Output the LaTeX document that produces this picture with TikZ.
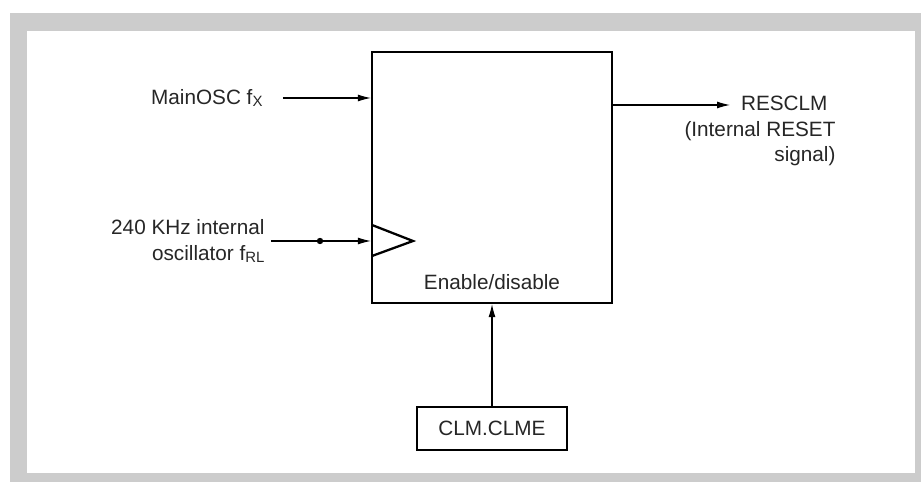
\documentclass[tikz,border=0pt]{standalone}
\usepackage{fontspec}
\setmainfont{Liberation Sans}
\usetikzlibrary{arrows.meta, positioning}
\tikzset{every path/.style={line width=0.6pt},
  sig/.style={-{Latex[length=2.6mm,width=1.4mm]}},
  block/.style={draw, line width=1.3pt, inner sep=0pt},
  lbl/.style={font=\fontsize{11.8}{14.4}\selectfont, text=black!85, inner sep=0pt}}
\newcommand{\sub}[1]{{\fontsize{8.5}{8.5}\selectfont\raisebox{-0.25ex}{#1}}}

\begin{document}
\begin{tikzpicture}[x=0.02cm, y=-0.02cm]
    \useasboundingbox (0,0) rectangle (921,482);
    \fill[black!20] (10,13) rectangle (921,482);
    \fill[white] (27,31) rectangle (915,473);

    \node[block, minimum width=4.8cm, minimum height=5.02cm] (main) at (492,177.5) {};
    \node[lbl, above=0.28cm of main.south] (endis) {Enable/disable};
    \draw[line width=1.3pt, line join=miter] (372,225) -- (413,241) -- (372,256);

    \node[lbl, anchor=east] (mainosc) at (263,98) {MainOSC f\sub{X}};
    \node[lbl, anchor=east, align=right] (lowosc) at (265,241) {240 KHz internal\\oscillator f\sub{RL}};
    \node[lbl, anchor=north east, align=right] (resclm) at (836,96) {RESCLM\hspace*{0.16cm}\\(Internal RESET\\signal)};

    \node[block, lbl, draw, line width=1.3pt, minimum width=3cm, minimum height=0.86cm] (clme) at (492,428.5) {CLM.CLME};

    \coordinate (dot) at (320,241);
    \coordinate (out) at (730,105);

    \draw[sig] ([xshift=0.4cm]mainosc.east) -- (mainosc.east -| main.west);
    \draw[sig] ([xshift=0.12cm]lowosc.east) -- (lowosc.east -| main.west);
    \fill (dot) circle (3.2);
    \draw[sig] (main.east |- out) -- (out);
    \draw[sig] (clme.north) -- (main.south);
\end{tikzpicture}
\end{document}
